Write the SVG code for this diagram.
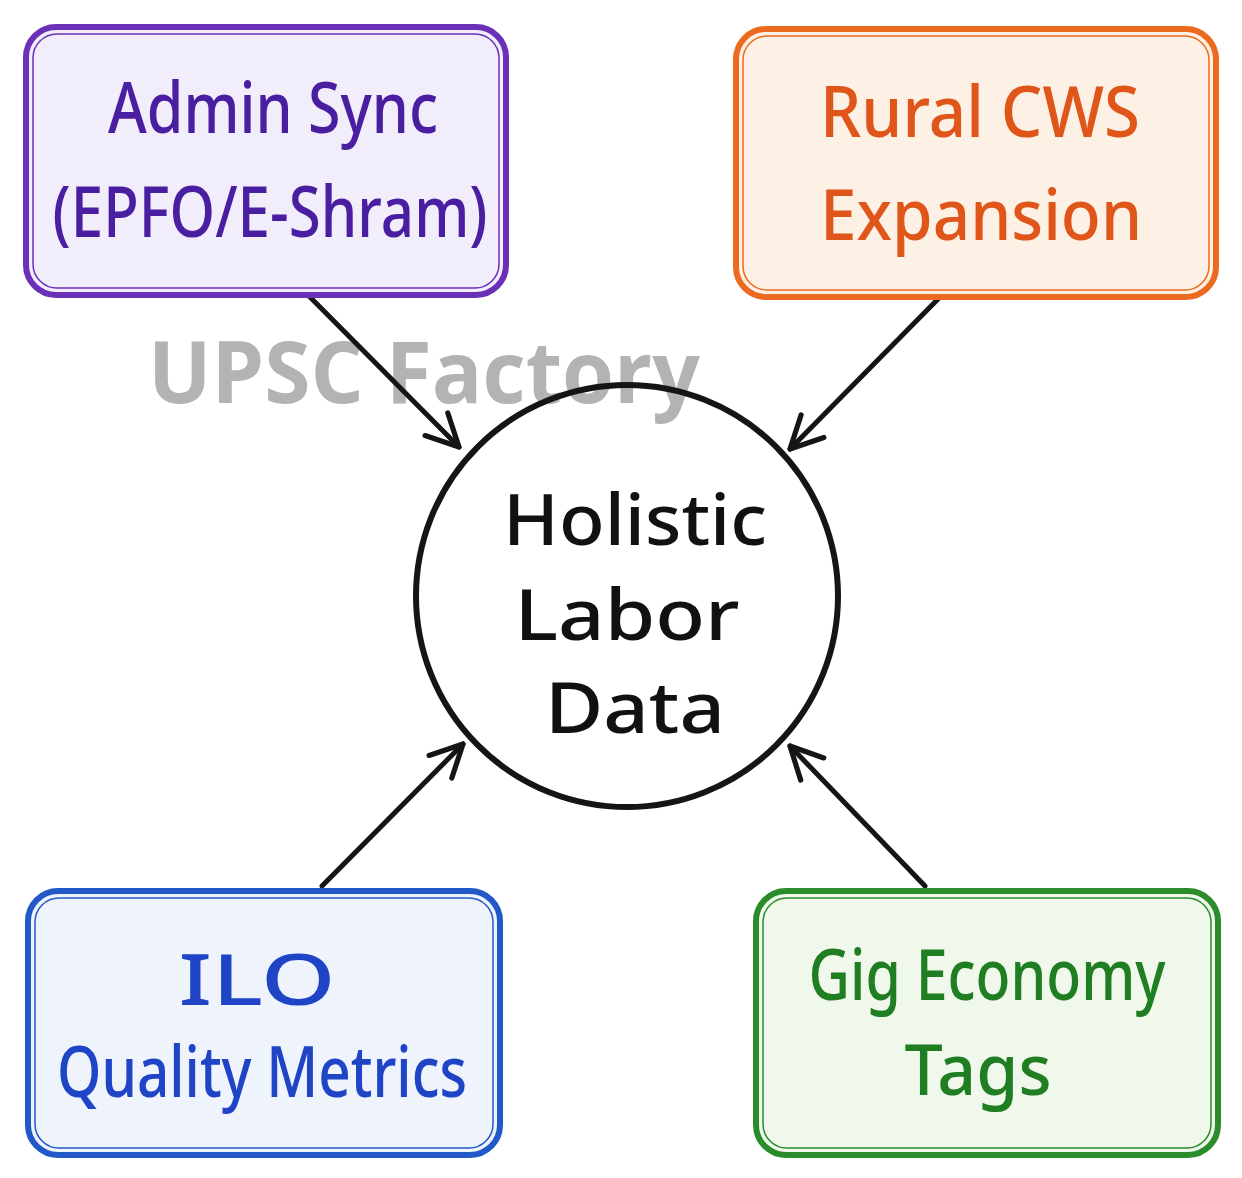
<svg xmlns="http://www.w3.org/2000/svg" width="1242" height="1178" viewBox="0 0 1242 1178">
<defs>
<style>
.lbl{font-family:"Noto Sans","Open Sans",sans-serif;font-size:70px;font-weight:500;text-anchor:middle}
.wm{font-family:"Open Sans","Noto Sans",sans-serif;font-size:86px;font-weight:700;fill:#b3b3b3}
.edge{stroke:#151515;stroke-width:5;fill:none;stroke-linecap:round}
</style>
<marker id="arr" viewBox="0 0 20 20" refX="18" refY="10" markerWidth="8" markerHeight="8" orient="auto" markerUnits="strokeWidth">
<path d="M2,2 L18,10 L2,18" fill="none" stroke="#151515" stroke-width="2.6" stroke-linecap="round" stroke-linejoin="round"/>
</marker>
</defs>
<rect width="1242" height="1178" fill="#ffffff"/>
<text class="wm" x="148" y="403" textLength="552" lengthAdjust="spacingAndGlyphs">UPSC Factory</text>
<g id="connectors">
<line class="edge" x1="305" y1="292" x2="459" y2="447" marker-end="url(#arr)"/>
<line class="edge" x1="940" y1="297" x2="790" y2="449" marker-end="url(#arr)"/>
<line class="edge" x1="322" y1="886" x2="463" y2="744" marker-end="url(#arr)"/>
<line class="edge" x1="925" y1="886" x2="790" y2="746" marker-end="url(#arr)"/>
</g>
<g id="admin">
<rect x="26" y="27" width="480" height="268" rx="30" fill="#f2edfa" stroke="#6a30b8" stroke-width="6"/>
<rect x="33" y="34" width="466" height="254" rx="24" fill="none" stroke="#6a30b8" stroke-width="1.5"/>
<text class="lbl" fill="#4a1ea0" x="273" y="133" textLength="330" lengthAdjust="spacingAndGlyphs">Admin Sync</text>
<text class="lbl" fill="#4a1ea0" x="270" y="237" textLength="435" lengthAdjust="spacingAndGlyphs">(EPFO/E-Shram)</text>
</g>
<g id="rural">
<rect x="736" y="29" width="480" height="268" rx="30" fill="#fdf1e5" stroke="#ec6a1f" stroke-width="6"/>
<rect x="743" y="36" width="466" height="254" rx="24" fill="none" stroke="#ec6a1f" stroke-width="1.5"/>
<text class="lbl" fill="#e0561a" x="980" y="137" textLength="320" lengthAdjust="spacingAndGlyphs">Rural CWS</text>
<text class="lbl" fill="#e0561a" x="981" y="240" textLength="322" lengthAdjust="spacingAndGlyphs">Expansion</text>
</g>
<g id="hub">
<circle cx="627" cy="596" r="211" fill="none" stroke="#151515" stroke-width="6"/>
<text class="lbl" fill="#111111" x="635" y="545" textLength="264" lengthAdjust="spacingAndGlyphs">Holistic</text>
<text class="lbl" fill="#111111" x="627" y="640" textLength="225" lengthAdjust="spacingAndGlyphs">Labor</text>
<text class="lbl" fill="#111111" x="635" y="733" textLength="180" lengthAdjust="spacingAndGlyphs">Data</text>
</g>
<g id="ilo">
<rect x="28" y="891" width="472" height="264" rx="30" fill="#eef3fc" stroke="#2358c9" stroke-width="6"/>
<rect x="35" y="898" width="458" height="250" rx="24" fill="none" stroke="#2358c9" stroke-width="1.5"/>
<text class="lbl" fill="#1f45c6" x="257" y="1005" textLength="157" lengthAdjust="spacingAndGlyphs">ILO</text>
<text class="lbl" fill="#1f45c6" x="262" y="1097" textLength="410" lengthAdjust="spacingAndGlyphs">Quality Metrics</text>
</g>
<g id="gig">
<rect x="756" y="891" width="462" height="264" rx="30" fill="#eff8eb" stroke="#2a8c2a" stroke-width="6"/>
<rect x="763" y="898" width="448" height="250" rx="24" fill="none" stroke="#2a8c2a" stroke-width="1.5"/>
<text class="lbl" fill="#1f7d22" x="987" y="1000" font-size="64" textLength="357" lengthAdjust="spacingAndGlyphs">Gig Economy</text>
<text class="lbl" fill="#1f7d22" x="978" y="1095" textLength="147" lengthAdjust="spacingAndGlyphs">Tags</text>
</g>
</svg>
